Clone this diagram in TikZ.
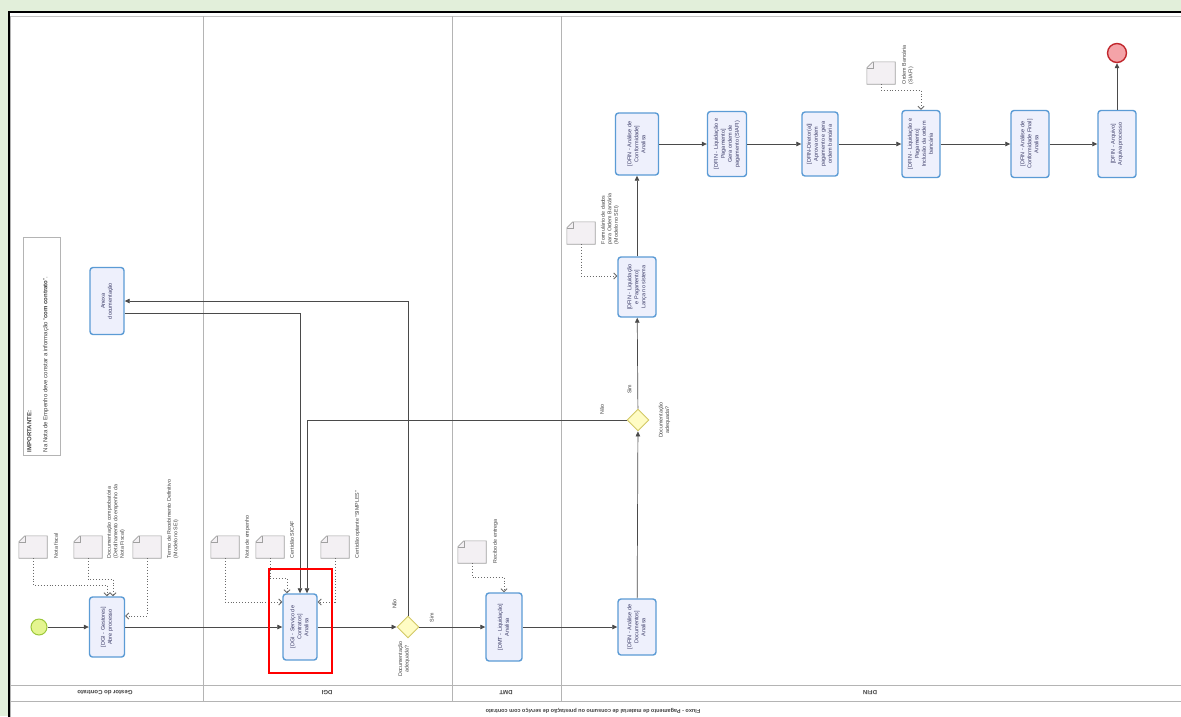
\documentclass[tikz,border=0pt]{standalone}
\usepackage{fontspec}
\setmainfont{Liberation Sans}
\usepackage{graphicx}
\usepackage{tikz}
\usepackage{xcolor}
\usetikzlibrary{shapes.geometric, arrows.meta, positioning}

\definecolor{bggreen}{HTML}{E2EFDA}
\definecolor{taskline}{HTML}{5B9BD5}
\definecolor{taskfill}{HTML}{EEF0FC}
\definecolor{tasktext}{HTML}{3A3A66}
\definecolor{gwline}{HTML}{D2C966}
\definecolor{gwfill}{HTML}{FFFCC4}
\definecolor{startline}{HTML}{9CC83A}
\definecolor{startfill}{HTML}{E4F590}
\definecolor{endline}{HTML}{C1272D}
\definecolor{endfill}{HTML}{F4A3A8}
\definecolor{docline}{HTML}{A0A0A0}
\definecolor{docfill}{HTML}{F3F0F3}
\definecolor{laneline}{HTML}{B4B4B4}
\definecolor{flowline}{HTML}{4A4A4A}
\definecolor{assocline}{HTML}{6A6A6A}
\definecolor{labeltext}{HTML}{404040}

\newcommand{\tasksize}{\fontsize{5.5}{7}\selectfont}
\newcommand{\docsize}{\fontsize{5.3}{6.5}\selectfont}
\newcommand{\notesize}{\fontsize{6}{8}\selectfont}
\newcommand{\vtext}[1]{\rotatebox{90}{\begin{tabular}{@{}c@{}}#1\end{tabular}}}
\newcommand{\vtextl}[1]{\rotatebox{90}{\begin{tabular}{@{}l@{}}#1\end{tabular}}}

\tikzstyle{task} = [rectangle, rounded corners=3pt,
minimum width=37pt,
minimum height=64pt,
inner sep=1pt,
draw=taskline, fill=taskfill, line width=1.4pt,
text=tasktext, font=\tasksize]
\tikzstyle{gateway} = [diamond, inner sep=0pt,
minimum width=22pt, minimum height=22pt,
draw=gwline, fill=gwfill, line width=0.9pt]
\tikzstyle{startev} = [circle, minimum size=16pt, inner sep=0pt,
draw=startline, fill=startfill, line width=1pt]
\tikzstyle{endev} = [circle, minimum size=19pt, inner sep=0pt,
draw=endline, fill=endfill, line width=1.4pt]
\tikzstyle{dataobj} = [rectangle, minimum width=28pt, minimum height=22pt, inner sep=0pt]
\tikzstyle{docshape} = [draw=docline, fill=docfill, line width=0.6pt]
\tikzstyle{doclabel} = [inner sep=0pt, text=labeltext, font=\docsize]
\tikzstyle{flowlbl} = [inner sep=0.5pt, text=labeltext, font=\docsize]
\tikzstyle{note} = [rectangle, draw=laneline, fill=white, line width=0.7pt,
minimum width=37pt, minimum height=218pt]
\tikzstyle{lanelbl} = [rotate=180, inner sep=0pt, text=labeltext, font=\fontsize{6}{7}\selectfont\bfseries]
\tikzstyle{lane} = [draw=laneline, line width=0.8pt]
\tikzstyle{arrow} = [draw=flowline, line width=0.7pt, -{Triangle[length=5pt,width=4.5pt]}]
\tikzstyle{assoc} = [draw=assocline, line width=0.9pt, dotted, -{Straight Barb[length=3pt,width=6pt]}]
\tikzstyle{highlight} = [draw=red, line width=1.8pt]

\begin{document}
\begin{tikzpicture}[x=1pt, y=-1pt, node distance=6pt]

    \useasboundingbox (0,0) rectangle (1181,716);
    \clip (0,0) rectangle (1181,716);
    \fill[bggreen] (0,0) rectangle (1181,716);
    \draw[line width=2pt, fill=white] (9,12) rectangle (1200,740);

    % pool and lanes
    \draw[lane, line width=1.4pt, draw=laneline!80] (10,16.5) -- (1200,16.5);
    \draw[lane] (10,16) -- (10,740);
    \draw[lane] (10,685) -- (1200,685);
    \draw[lane] (10,701) -- (1200,701);
    \foreach \x in {203,452,561}
        \draw[lane] (\x,16) -- (\x,701);

    \node (lane-gestor) [lanelbl] at (105,693) {Gestor do Contrato};
    \node (lane-dgi) [lanelbl] at (327,693) {DGI};
    \node (lane-dmt) [lanelbl] at (506,693) {DMT};
    \node (lane-dfin) [lanelbl] at (870,693) {DFIN};
    \node (titulo) [lanelbl, font=\fontsize{5.5}{6}\selectfont\bfseries] at (593,711)
        {Fluxo - Pagamento de material de consumo ou prestação de serviço com contrato};

    % note
    \node (important) [note] at (41.5,346) {};
    \node (important-txt) [inner sep=0pt, text=labeltext, font=\notesize, anchor=south west]
        at ([xshift=3pt,yshift=3pt]important.south west)
        {\vtextl{\textbf{IMPORTANTE:}\\ \\Na Nota de Empenho deve constar a informação ``\textbf{com contrato}''.}};

    % events, tasks and gateways
    \node (inicio) [startev] at (39,627) {};
    \node (abre) [task, minimum width=35pt, minimum height=60pt] at (107,627) {\vtext{[DGI - Gestores]\\Abre processo}};
    \node (anexa) [task, minimum width=34pt, minimum height=67pt] at (107,301) {\vtext{Anexa\\documentação}};
    \node (analisa-dgi) [task, minimum width=34pt, minimum height=66pt] at (300,627) {\vtext{[DGI - Serviço de\\Contratos]\\Analisa}};
    \node (decisao-dgi) [gateway] at (408,627) {};
    \node (analisa-dmt) [task, minimum width=36pt, minimum height=68pt] at (504,627) {\vtext{[DMT - Liquidação]\\Analisa}};
    \node (analisa-doc) [task, minimum width=38pt, minimum height=56pt] at (637,627) {\vtext{[DFIN - Análise de\\Documentos]\\Analisa}};
    \node (decisao-dfin) [gateway] at (638,420) {};
    \node (lanca) [task, minimum width=38pt, minimum height=60pt] at (637,287) {\vtext{[DFIN - Liquidação\\e Pagamento]\\Lança no sistema}};
    \node (conformidade) [task, minimum width=43pt, minimum height=62pt] at (637,144) {\vtext{[DFIN - Análise de\\Conformidade]\\Analisa}};
    \node (gera-ordem) [task, minimum width=39pt, minimum height=65pt] at (727,144) {\vtext{[DFIN - Liquidação e\\Pagamento]\\Gera ordem de\\pagamento (SIAFI)}};
    \node (aprova) [task, minimum width=36pt, minimum height=64pt] at (820,144) {\vtext{[DFIN-Diretor(a)]\\Aprova ordem\\pagamento e gera\\ordem bancária}};
    \node (inclusao) [task, minimum width=38pt, minimum height=67pt] at (921,144) {\vtext{[DFIN - Liquidação e\\Pagamento]\\Inclusão da ordem\\bancária}};
    \node (conf-final) [task, minimum width=38pt, minimum height=67pt] at (1030,144) {\vtext{[DFIN - Análise de\\Conformidade Final]\\Analisa}};
    \node (arquiva) [task, minimum width=38pt, minimum height=67pt] at (1117,144) {\vtext{[DFIN - Arquivo]\\Arquiva processo}};
    \node (fim) [endev] at (1117,53) {};

    % gateway labels
    \node (decisao-dgi-txt) [flowlbl, below=2pt of decisao-dgi.south, xshift=-4pt] {\vtext{Documentação\\adequada?}};
    \node (decisao-dfin-txt) [flowlbl, right=8pt of decisao-dfin.east] {\vtext{Documentação\\adequada?}};
    \node (nao-dgi) [flowlbl, above left=6pt and 9pt of decisao-dgi.north] {\vtext{Não}};
    \node (sim-dgi) [flowlbl, above right=4pt and 9pt of decisao-dgi.east] {\vtext{Sim}};
    \node (sim-dfin) [flowlbl, above left=14pt and 4pt of decisao-dfin.north] {\vtext{Sim}};
    \node (nao-dfin) [flowlbl, above left=5pt and 20pt of decisao-dfin.west] {\vtext{Não}};

    % data objects
    \node (nf) [dataobj] at (33,547) {};
    \node (doc-comp) [dataobj] at (88,547) {};
    \node (termo) [dataobj] at (147,547) {};
    \node (empenho) [dataobj] at (225,547) {};
    \node (sicaf) [dataobj] at (270,547) {};
    \node (simples) [dataobj] at (335,547) {};
    \node (recibo) [dataobj] at (472,552) {};
    \node (formulario) [dataobj] at (581,233) {};
    \node (ordem-banc) [dataobj] at (881,73) {};
    \foreach \d in {nf,doc-comp,termo,empenho,sicaf,simples,recibo,formulario,ordem-banc} {
        \draw[docshape] ([yshift=-6pt]\d.north west) -- ([xshift=6pt]\d.north west) -- (\d.north east)
            -- (\d.south east) -- (\d.south west) -- cycle;
        \draw[docshape, fill=none] ([yshift=-6pt]\d.north west) -- ([xshift=6pt,yshift=-6pt]\d.north west)
            -- ([xshift=6pt]\d.north west);
    }

    \node (nf-txt) [doclabel, anchor=south west] at ([xshift=6pt]nf.south east) {\vtextl{Nota fiscal}};
    \node (doc-comp-txt) [doclabel, anchor=south west] at ([xshift=4pt]doc-comp.south east) {\vtextl{Documentação comprobatória\\(Detalhamento do empenho da\\Nota Fiscal)}};
    \node (termo-txt) [doclabel, anchor=south west] at ([xshift=5pt]termo.south east) {\vtextl{Termo de Recebimento Definitivo\\(Modelo no SEI)}};
    \node (empenho-txt) [doclabel, anchor=south west] at ([xshift=5pt]empenho.south east) {\vtextl{Nota de empenho}};
    \node (sicaf-txt) [doclabel, anchor=south west] at ([xshift=5pt]sicaf.south east) {\vtextl{Certidão SICAF}};
    \node (simples-txt) [doclabel, anchor=south west] at ([xshift=5pt]simples.south east) {\vtextl{Certidão optante ``SIMPLES''}};
    \node (recibo-txt) [doclabel, anchor=south west] at ([xshift=6pt]recibo.south east) {\vtextl{Recibo de entrega}};
    \node (formulario-txt) [doclabel, anchor=south west] at ([xshift=5pt]formulario.south east) {\vtextl{Formulário de dados\\para Ordem Bancária\\(Modelo no SEI)}};
    \node (ordem-banc-txt) [doclabel, anchor=south west] at ([xshift=6pt]ordem-banc.south east) {\vtextl{Ordem Bancária\\(SIAFI)}};

    % sequence flows
    \draw [arrow] (inicio) -- (abre);
    \draw [arrow] (abre) -- (analisa-dgi);
    \draw [arrow] (analisa-dgi) -- (decisao-dgi);
    \draw [arrow] (decisao-dgi) -- (analisa-dmt);
    \draw [arrow] (analisa-dmt) -- (analisa-doc);
    \draw [arrow] (analisa-doc) -- (decisao-dfin);
    \draw [arrow] (decisao-dfin) -- (lanca);
    \draw [arrow] (lanca) -- (conformidade);
    \draw [arrow] (conformidade) -- (gera-ordem);
    \draw [arrow] (gera-ordem) -- (aprova);
    \draw [arrow] (aprova) -- (inclusao);
    \draw [arrow] (inclusao) -- (conf-final);
    \draw [arrow] (conf-final) -- (arquiva);
    \draw [arrow] (arquiva) -- (fim);
    \draw [arrow] (decisao-dgi.north) |- (anexa.east);
    \draw [arrow] ([yshift=-12pt]anexa.east) -| (analisa-dgi.north);
    \draw [arrow] (decisao-dfin.west) -| ([xshift=7pt]analisa-dgi.north);

    % data associations
    \draw [assoc] (nf.south) -- ++(0,27) -| (abre.north);
    \draw [assoc] (doc-comp.south) -- ++(0,21) -| ([xshift=6pt]abre.north);
    \draw [assoc] (termo.south) |- ([yshift=11pt]abre.east);
    \draw [assoc] (empenho.south) |- ([yshift=25pt]analisa-dgi.west);
    \draw [assoc] (sicaf.south) -- ++(0,20) -| ([xshift=-13pt]analisa-dgi.north);
    \draw [assoc] (simples.south) |- ([yshift=25pt]analisa-dgi.east);
    \draw [assoc] (recibo.south) -- ++(0,14) -| (analisa-dmt.north);
    \draw [assoc] (formulario.south) |- ([yshift=11pt]lanca.west);
    \draw [assoc] (ordem-banc.south) -- ++(0,6) -| (inclusao.north);

    % highlight
    \draw [highlight] ([xshift=-13pt,yshift=24pt]analisa-dgi.north west) rectangle ([xshift=14pt,yshift=-12pt]analisa-dgi.south east);

\end{tikzpicture}
\end{document}
